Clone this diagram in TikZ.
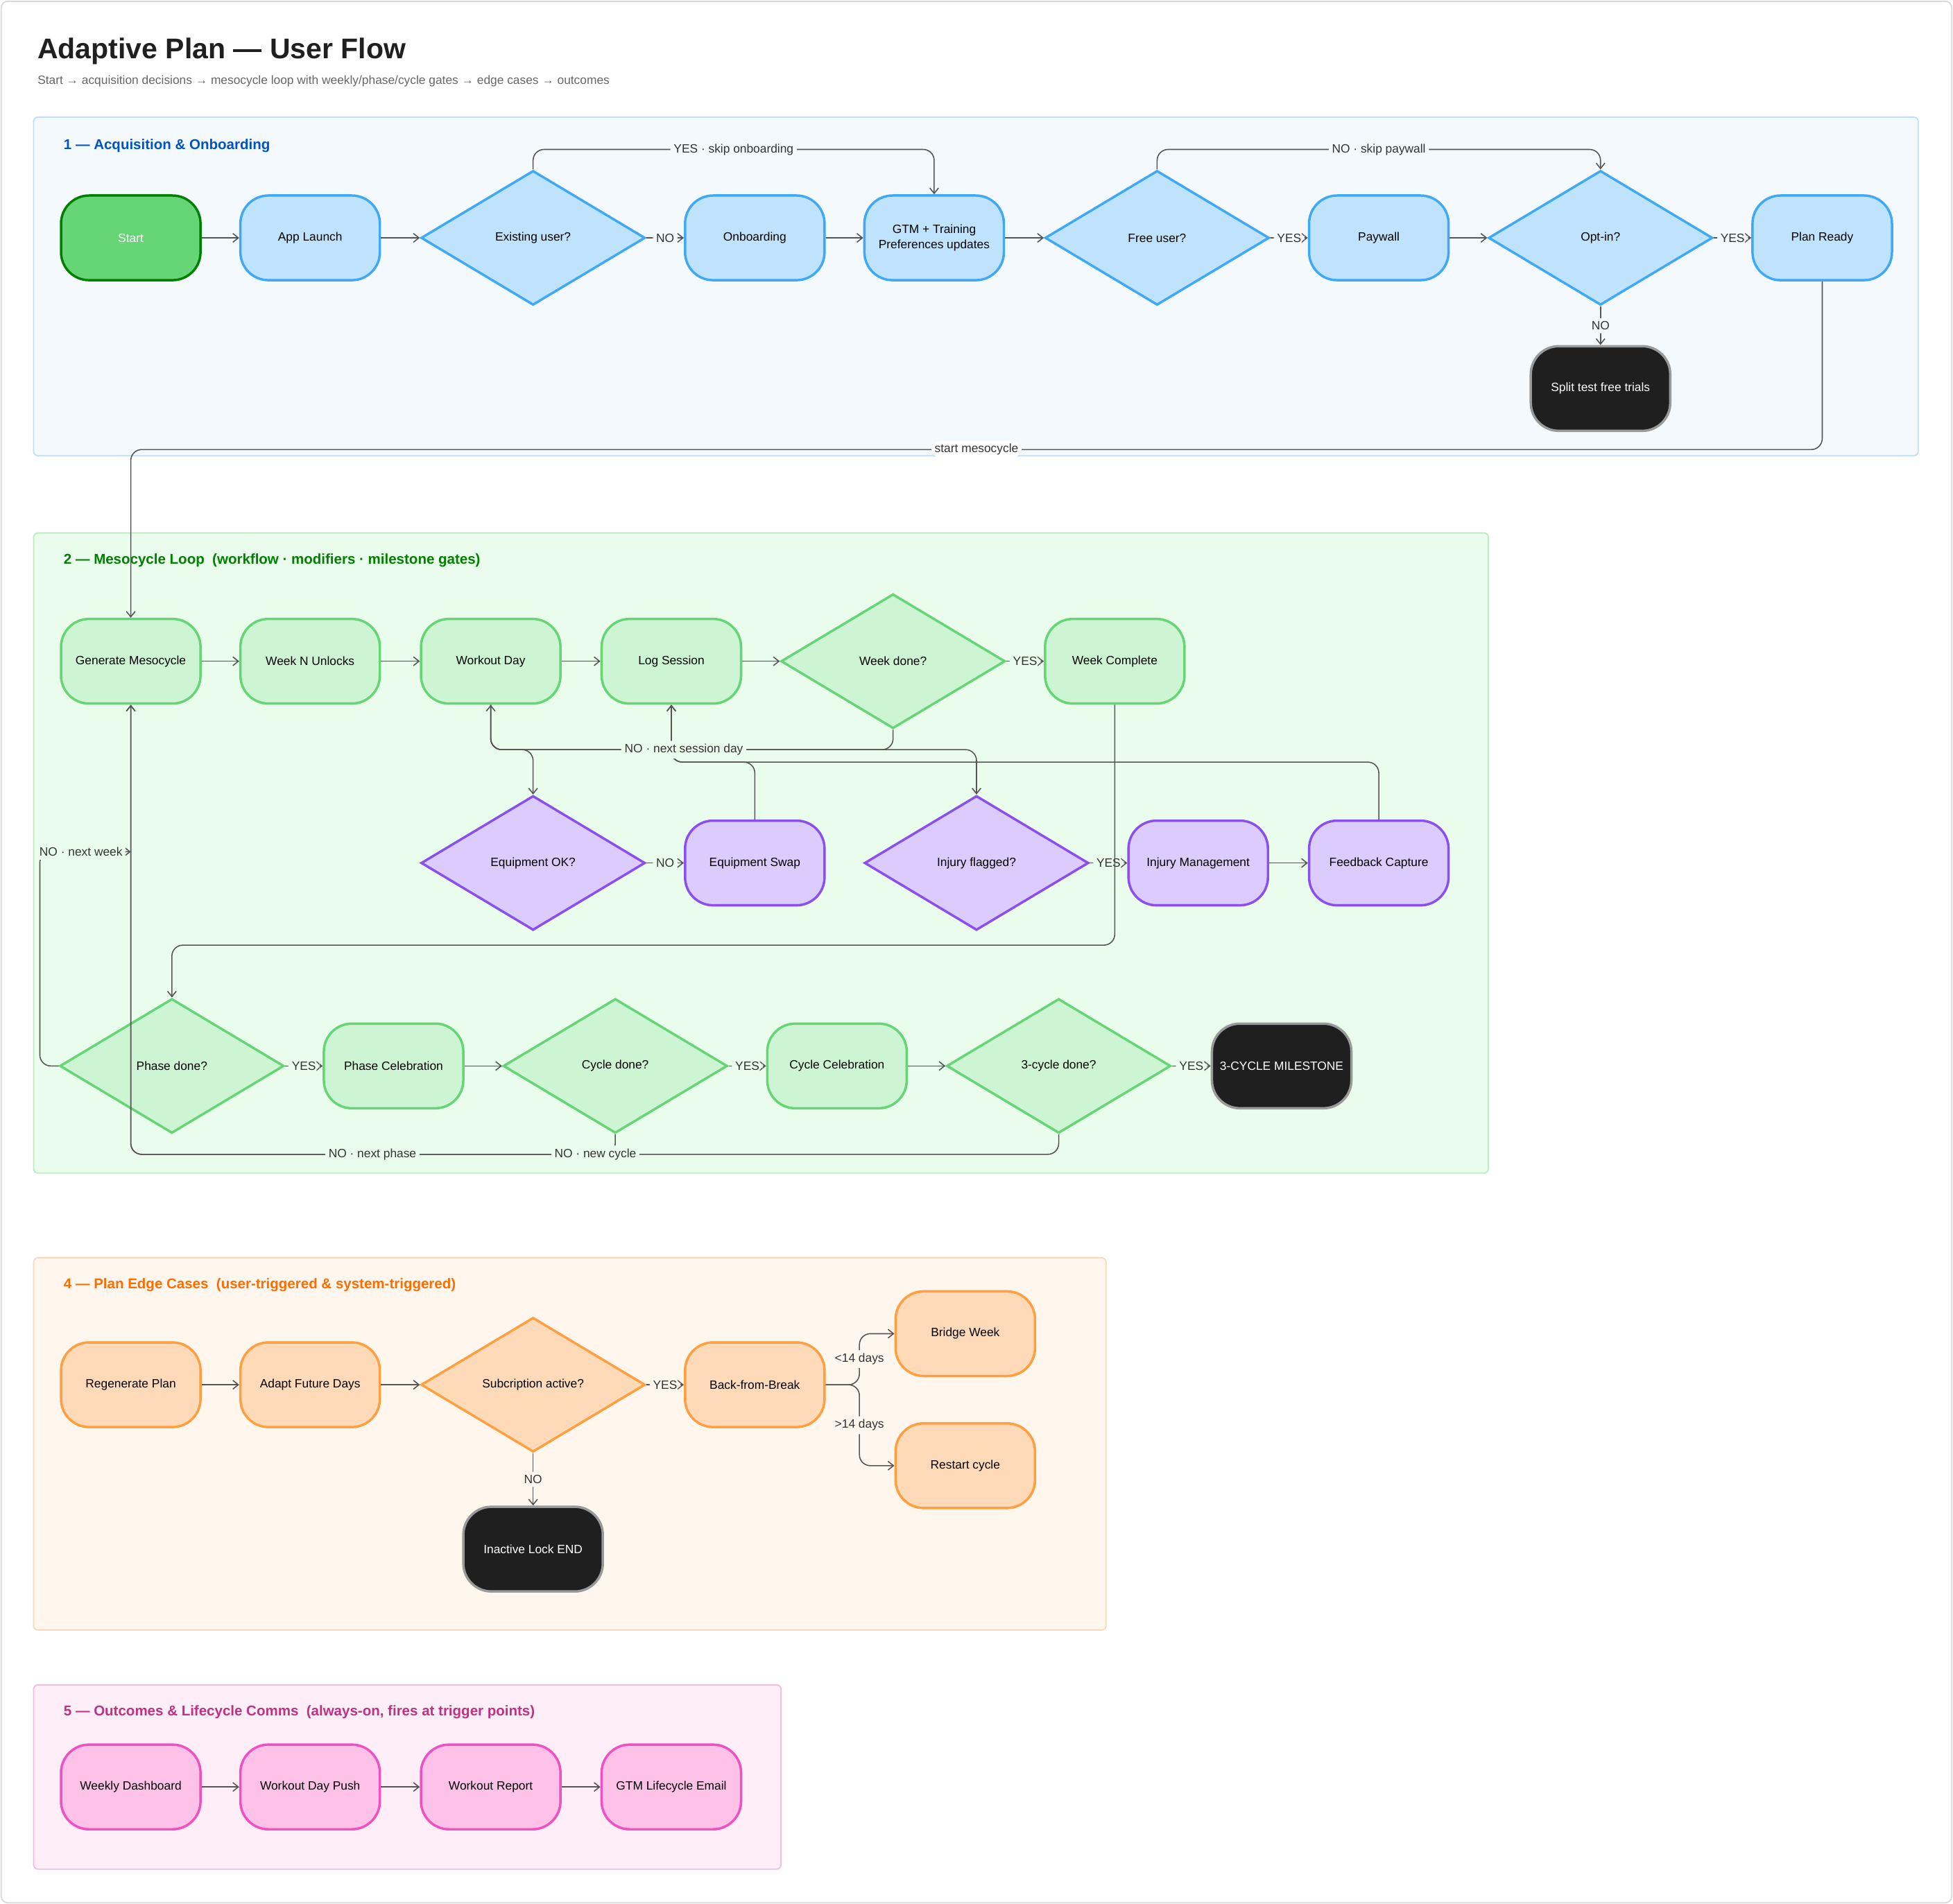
\documentclass[tikz,border=0pt]{standalone}
\usepackage{fontspec}
\setmainfont{Liberation Sans}
\usetikzlibrary{shapes.geometric,arrows.meta}

\definecolor{ln}{HTML}{555555}
\definecolor{bgA}{HTML}{F4F9FD}\definecolor{bdA}{HTML}{BFE0F5}
\definecolor{bgB}{HTML}{EAFCEC}\definecolor{bdB}{HTML}{BDEBC3}
\definecolor{bgD}{HTML}{FFF6EE}\definecolor{bdD}{HTML}{F8D9BC}
\definecolor{bgE}{HTML}{FDEEF8}\definecolor{bdE}{HTML}{F5BCE0}
\definecolor{blF}{HTML}{BFE3FD}\definecolor{blD}{HTML}{3FA9F5}
\definecolor{grF}{HTML}{CDF5D3}\definecolor{grD}{HTML}{66D575}
\definecolor{puF}{HTML}{DCCBFD}\definecolor{puD}{HTML}{8A4FF0}
\definecolor{orF}{HTML}{FFDAB8}\definecolor{orD}{HTML}{FF9F40}
\definecolor{piF}{HTML}{FEC1E8}\definecolor{piD}{HTML}{F050C0}

\tikzstyle{flowstep} = [rectangle, rounded corners=0.45cm, minimum width=2.24cm, minimum height=1.36cm, align=center, line width=1.1pt, font=\fontsize{5.5}{7}\selectfont]
\tikzstyle{gate} = [diamond, aspect=1.667, minimum width=3.6cm, minimum height=2.16cm, inner sep=0pt, line width=1.1pt, font=\fontsize{5.5}{7}\selectfont]
\tikzstyle{inblue} = [draw=blD, fill=blF]
\tikzstyle{ingreen} = [draw=grD, fill=grF]
\tikzstyle{inpurple} = [draw=puD, fill=puF]
\tikzstyle{inorange} = [draw=orD, fill=orF]
\tikzstyle{inpink} = [draw=piD, fill=piF]
\tikzstyle{ending} = [draw=black!40, fill=black!88, text=white]
\tikzstyle{arrow} = [draw=ln, line width=0.5pt, rounded corners=5pt, ->, >={Straight Barb[length=2.5pt,width=4pt]}]
\tikzstyle{lbl} = [inner sep=1.5pt, text=black!80, font=\fontsize{5.5}{7}\selectfont]
\tikzstyle{zone} = [rounded corners=2pt, line width=0.6pt]
\tikzstyle{head} = [anchor=west, font=\fontsize{6.5}{8}\selectfont\bfseries]

\begin{document}
\begin{tikzpicture}[x=0.02cm, y=-0.02cm]
  \useasboundingbox (0,0) rectangle (1568,1529);
  \draw[black!15, rounded corners=3pt, line width=0.6pt] (1,1) rectangle (1567,1528);

  % title
  \node (title) [anchor=west, font=\fontsize{13}{15}\selectfont\bfseries, text=black!88] at (24,41) {Adaptive Plan — User Flow};
  \node (subtitle) [anchor=west, text=black!60, font=\fontsize{5.5}{7}\selectfont] at (24,65) {Start → acquisition decisions → mesocycle loop with weekly/phase/cycle gates → edge cases → outcomes};

  % sections
  \draw[zone, draw=bdA, fill=bgA] (27,94) rectangle (1540,366);
  \draw[zone, draw=bdB, fill=bgB] (27,428) rectangle (1195,942);
  \draw[zone, draw=bdD, fill=bgD] (27,1010) rectangle (888,1309);
  \draw[zone, draw=bdE, fill=bgE] (27,1353) rectangle (627,1501);
  \node (headA) [head, text=blue!60!cyan!80!black] at (45,117) {1 — Acquisition \& Onboarding};
  \node (headB) [head, text=green!50!black] at (45,450) {2 — Mesocycle Loop\ \ (workflow · modifiers · milestone gates)};
  \node (headD) [head, text=orange!85!red] at (45,1032) {4 — Plan Edge Cases\ \ (user-triggered \& system-triggered)};
  \node (headE) [head, text=magenta!75!black] at (45,1375) {5 — Outcomes \& Lifecycle Comms\ \ (always-on, fires at trigger points)};

  % 1 - acquisition
  \node (start) [flowstep, draw=green!50!black, fill=grD, text=white] at (105,191) {Start};
  \node (launch) [flowstep, inblue] at (249,191) {App Launch};
  \node (existing) [gate, inblue] at (428,191) {Existing user?};
  \node (onboard) [flowstep, inblue] at (606,191) {Onboarding};
  \node (gtm) [flowstep, inblue] at (750,191) {GTM + Training\\Preferences updates};
  \node (free) [gate, inblue] at (929,191) {Free user?};
  \node (paywall) [flowstep, inblue] at (1107,191) {Paywall};
  \node (optin) [gate, inblue] at (1285,191) {Opt-in?};
  \node (ready) [flowstep, inblue] at (1463,191) {Plan Ready};
  \node (split) [flowstep, ending] at (1285,312) {Split test free trials};

  \draw [arrow] (start) -- (launch);
  \draw [arrow] (launch) -- (existing);
  \draw [arrow] (existing) -- node[lbl, fill=bgA] {NO} (onboard);
  \draw [arrow] (onboard) -- (gtm);
  \draw [arrow] (gtm) -- (free);
  \draw [arrow] (free) -- node[lbl, fill=bgA] {YES} (paywall);
  \draw [arrow] (paywall) -- (optin);
  \draw [arrow] (optin) -- node[lbl, fill=bgA] {YES} (ready);
  \draw [arrow] (optin) -- node[lbl, fill=bgA] {NO} (split);
  \draw [arrow] (existing.north) -- (428,120) -- node[lbl, fill=bgA] {YES · skip onboarding} (750,120) -- (gtm.north);
  \draw [arrow] (free.north) -- (929,120) -- node[lbl, fill=bgA] {NO · skip paywall} (1285,120) -- (optin.north);

  % 2 - mesocycle loop
  \node (gen) [flowstep, ingreen] at (105,531) {Generate Mesocycle};
  \node (weekn) [flowstep, ingreen] at (249,531) {Week N Unlocks};
  \node (workout) [flowstep, ingreen] at (394,531) {Workout Day};
  \node (log) [flowstep, ingreen] at (539,531) {Log Session};
  \node (weekdone) [gate, ingreen] at (717,531) {Week done?};
  \node (weekend) [flowstep, ingreen] at (895,531) {Week Complete};
  \node (equip) [gate, inpurple] at (428,693) {Equipment OK?};
  \node (swap) [flowstep, inpurple] at (606,693) {Equipment Swap};
  \node (injury) [gate, inpurple] at (784,693) {Injury flagged?};
  \node (injmgmt) [flowstep, inpurple] at (962,693) {Injury Management};
  \node (feedback) [flowstep, inpurple] at (1107,693) {Feedback Capture};
  \node (phase) [gate, ingreen] at (138,856) {Phase done?};
  \node (phasecel) [flowstep, ingreen] at (316,856) {Phase Celebration};
  \node (cycle) [gate, ingreen] at (494,856) {Cycle done?};
  \node (cyclecel) [flowstep, ingreen] at (672,856) {Cycle Celebration};
  \node (three) [gate, ingreen] at (850,856) {3-cycle done?};
  \node (milestone) [flowstep, ending] at (1029,856) {3-CYCLE MILESTONE};

  \draw [arrow] (ready.south) -- (1463,361) -- node[lbl, fill=white] {start mesocycle} (105,361) -- (gen.north);
  \draw [arrow] (gen) -- (weekn);
  \draw [arrow] (weekn) -- (workout);
  \draw [arrow] (workout) -- (log);
  \draw [arrow] (log) -- (weekdone);
  \draw [arrow] (weekdone) -- node[lbl, fill=bgB] {YES} (weekend);
  \draw [arrow] (workout.south) -- (394,602) -| (equip.north);
  \draw [arrow] (workout.south) -- (394,602) -| (injury.north);
  \draw [arrow] (swap.north) -- (606,612) -| (log.south);
  \draw [arrow] (feedback.north) -- (1107,612) -| (log.south);
  \draw [arrow] (weekdone.south) -- (717,602) -- node[lbl, fill=bgB, pos=0.52] {NO · next session day} (394,602) -- (workout.south);
  \draw [arrow] (equip) -- node[lbl, fill=bgB] {NO} (swap);
  \draw [arrow] (injury) -- node[lbl, fill=bgB] {YES} (injmgmt);
  \draw [arrow] (injmgmt) -- (feedback);
  \draw [arrow] (weekend.south) -- (895,759) -| (phase.north);
  \draw [arrow] (phase) -- node[lbl, fill=bgB] {YES} (phasecel);
  \draw [arrow] (phasecel) -- (cycle);
  \draw [arrow] (cycle) -- node[lbl, fill=bgB] {YES} (cyclecel);
  \draw [arrow] (cyclecel) -- (three);
  \draw [arrow] (three) -- node[lbl, fill=bgB] {YES} (milestone);
  \draw [arrow] (phase.west) -| (32,684) -- (105,684);
  \draw [arrow] (three.south) -- (850,927) -| (gen.south);
  \draw [arrow] (cycle.south) -- (494,927) -| (gen.south);
  \node (nextweek) [lbl, fill=bgB] at (65,684) {NO · next week};
  \node (nextphase) [lbl, fill=bgB] at (299,927) {NO · next phase};
  \node (newcycle) [lbl, fill=bgB] at (478,927) {NO · new cycle};

  % 4 - edge cases
  \node (regen) [flowstep, inorange] at (105,1112) {Regenerate Plan};
  \node (adapt) [flowstep, inorange] at (249,1112) {Adapt Future Days};
  \node (subs) [gate, inorange] at (428,1112) {Subcription active?};
  \node (back) [flowstep, inorange] at (606,1112) {Back-from-Break};
  \node (bridge) [flowstep, inorange] at (775,1071) {Bridge Week};
  \node (restart) [flowstep, inorange] at (775,1177) {Restart cycle};
  \node (lock) [flowstep, ending] at (428,1244) {Inactive Lock END};

  \draw [arrow] (regen) -- (adapt);
  \draw [arrow] (adapt) -- (subs);
  \draw [arrow] (subs) -- node[lbl, fill=bgD] {YES} (back);
  \draw [arrow] (subs) -- node[lbl, fill=bgD] {NO} (lock);
  \draw [arrow] (back.east) -- (690,1112) |- node[lbl, fill=bgD, pos=0.25] {<14 days} (bridge.west);
  \draw [arrow] (back.east) -- (690,1112) |- node[lbl, fill=bgD, pos=0.25] {>14 days} (restart.west);

  % 5 - outcomes
  \node (dash) [flowstep, inpink] at (105,1435) {Weekly Dashboard};
  \node (push) [flowstep, inpink] at (249,1435) {Workout Day Push};
  \node (report) [flowstep, inpink] at (394,1435) {Workout Report};
  \node (email) [flowstep, inpink] at (539,1435) {GTM Lifecycle Email};

  \draw [arrow] (dash) -- (push);
  \draw [arrow] (push) -- (report);
  \draw [arrow] (report) -- (email);
\end{tikzpicture}
\end{document}
